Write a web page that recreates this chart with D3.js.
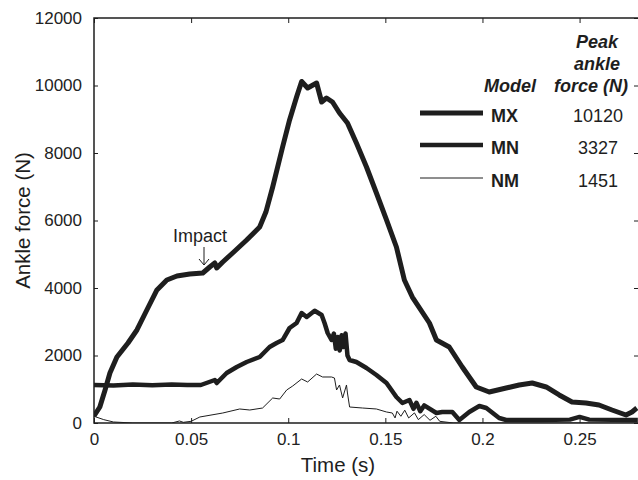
<!DOCTYPE html>
<html lang="en">
<head>
  <meta charset="UTF-8" />
  <title>Ankle force</title>
  <script src="https://cdn.jsdelivr.net/npm/d3@7"></script>
  <style>
    body { margin: 0; background: #fff; }
    svg { font-family: "Liberation Sans", Arial, sans-serif; }
    .tick text { font-size: 17px; fill: #222; }
    .domain { display: none; }
  </style>
</head>
<body>
  <div id="chart"></div>
  <script>
    // values (time in s, force in N)
    const mxTime = [0, 0.003, 0.0057, 0.0082, 0.0118, 0.0175, 0.0221, 0.0272, 0.0324, 0.0375, 0.0427, 0.0493, 0.056, 0.0596, 0.0622, 0.0632, 0.0663, 0.0714, 0.0786, 0.0853, 0.0885, 0.092, 0.0971, 0.1007, 0.1043, 0.1069, 0.11, 0.1146, 0.1172, 0.1197, 0.1228, 0.1264, 0.1305, 0.1351, 0.1403, 0.1454, 0.1506, 0.1557, 0.1598, 0.1639, 0.1727, 0.1763, 0.1829, 0.1896, 0.1968, 0.2035, 0.2122, 0.2189, 0.2256, 0.2328, 0.2395, 0.2461, 0.2533, 0.26, 0.2667, 0.2739, 0.277, 0.2795];
    const mxForce = [207, 474, 978, 1481, 1956, 2370, 2756, 3348, 3941, 4237, 4356, 4415, 4444, 4622, 4741, 4593, 4770, 5037, 5422, 5807, 6250, 6993, 8178, 8978, 9659, 10120, 9926, 10074, 9511, 9630, 9511, 9185, 8889, 8296, 7585, 6815, 6015, 5215, 4237, 3733, 2963, 2459, 2252, 1659, 1067, 919, 1037, 1126, 1185, 1067, 830, 622, 593, 533, 385, 237, 326, 444];

    const mnTime = [0, 0.01, 0.02, 0.03, 0.04, 0.048, 0.055, 0.0622, 0.0632, 0.0683, 0.0735, 0.0786, 0.0853, 0.0904, 0.094, 0.0971, 0.1007, 0.1043, 0.1069, 0.1095, 0.1136, 0.1172, 0.1187, 0.1203, 0.1223, 0.1235, 0.1245, 0.1255, 0.1265, 0.1275, 0.1285, 0.1295, 0.1305, 0.1316, 0.1351, 0.1403, 0.1454, 0.1506, 0.1557, 0.1588, 0.1624, 0.1645, 0.166, 0.168, 0.17, 0.1763, 0.1793, 0.1845, 0.1881, 0.1932, 0.1984, 0.202, 0.2086, 0.2122, 0.23, 0.245, 0.25, 0.255, 0.28];
    const mnForce = [1126, 1110, 1140, 1120, 1140, 1126, 1126, 1274, 1185, 1481, 1659, 1807, 1956, 2252, 2370, 2459, 2815, 2963, 3259, 3141, 3327, 3200, 2963, 2667, 2459, 2650, 2200, 2550, 2150, 2600, 2250, 2650, 2000, 1867, 1807, 1630, 1422, 1185, 770, 593, 681, 420, 600, 350, 520, 296, 326, 326, 89, 326, 504, 444, 148, 89, 90, 100, 180, 100, 90];

    const nmTime = [0, 0.005, 0.01, 0.02, 0.04, 0.044, 0.046, 0.05, 0.0545, 0.0663, 0.075, 0.0802, 0.0868, 0.092, 0.0956, 0.0992, 0.1023, 0.1069, 0.11, 0.1146, 0.1177, 0.1223, 0.1238, 0.1249, 0.1264, 0.128, 0.13, 0.1305, 0.1316, 0.1382, 0.1454, 0.1506, 0.1536, 0.155, 0.156, 0.158, 0.16, 0.162, 0.165, 0.167, 0.17, 0.173, 0.176, 0.178, 0.185, 0.28];
    const nmForce = [200, 100, 30, 0, 0, 60, 20, 50, 178, 296, 415, 385, 444, 741, 711, 978, 1096, 1304, 1215, 1451, 1363, 1363, 1333, 978, 1126, 741, 1126, 889, 474, 444, 415, 326, 296, 150, 350, 200, 380, 150, 300, 100, 250, 80, 200, 50, 0, 0];

    const models = ["MX", "MN", "NM"];
    const peaks = [10120, 3327, 1451];
    const widths = [5, 4.5, 1];
    const yTicks = [0, 2000, 4000, 6000, 8000, 10000, 12000];
    const xTicks = [0, 0.05, 0.1, 0.15, 0.2, 0.25];

    const width = 638, height = 480;
    const padL = 94, padT = 18, padR = 639, padB = 423;
    const ink = "#1e1e1e";

    const svg = d3.select("#chart").append("svg")
      .attr("width", width)
      .attr("height", height);

    const x = d3.scaleLinear().domain([0, 0.2806]).range([padL, padR]);
    const y = d3.scaleLinear().domain([0, 12000]).range([padB, padT]);

    svg.append("defs").append("clipPath").attr("id", "clip")
      .append("rect").attr("x", padL).attr("y", padT - 5)
      .attr("width", padR - padL).attr("height", padB - padT + 5);

    // axes with inward ticks
    svg.append("g")
      .attr("transform", `translate(0,${padB})`)
      .call(d3.axisBottom(x).tickValues(xTicks).tickFormat(d3.format("")).tickSizeInner(-5).tickPadding(10))
      .call(g => g.selectAll("line").attr("stroke", ink));

    svg.append("g")
      .attr("transform", `translate(0,${padT})`)
      .call(d3.axisTop(x).tickValues(xTicks).tickFormat("").tickSizeInner(-5))
      .call(g => g.selectAll("line").attr("stroke", ink));

    svg.append("g")
      .attr("transform", `translate(${padL},0)`)
      .call(d3.axisLeft(y).tickValues(yTicks).tickFormat(d3.format("d")).tickSizeInner(-4).tickPadding(12))
      .call(g => g.selectAll("line").attr("stroke", ink));

    svg.append("g")
      .attr("transform", `translate(${padR},0)`)
      .call(d3.axisRight(y).tickValues(yTicks).tickFormat("").tickSizeInner(-5))
      .call(g => g.selectAll("line").attr("stroke", ink));

    // frame
    svg.append("path")
      .attr("d", `M${padR},${padT}H${padL}V${padB}H${padR}`)
      .attr("fill", "none").attr("stroke", ink).attr("stroke-width", 1.5);

    // curves
    const line = d3.line().x(d => x(d[0])).y(d => y(d[1]));
    const series = [
      d3.zip(mxTime, mxForce),
      d3.zip(mnTime, mnForce),
      d3.zip(nmTime, nmForce)
    ];
    svg.append("g").attr("clip-path", "url(#clip)")
      .selectAll("path").data(series).join("path")
      .attr("d", line)
      .attr("fill", "none")
      .attr("stroke", ink)
      .attr("stroke-width", (d, i) => widths[i])
      .attr("stroke-linejoin", "round");

    // axis titles
    svg.append("text")
      .attr("transform", `translate(30,${(padT + padB) / 2}) rotate(-90)`)
      .attr("text-anchor", "middle")
      .attr("font-size", 20.5).attr("fill", ink)
      .text("Ankle force (N)");

    svg.append("text")
      .attr("x", 338).attr("y", 472)
      .attr("text-anchor", "middle")
      .attr("font-size", 20.5).attr("fill", ink)
      .text("Time (s)");

    // impact annotation
    svg.append("text")
      .attr("x", 200).attr("y", 242)
      .attr("text-anchor", "middle")
      .attr("font-size", 18).attr("fill", ink)
      .text("Impact");
    svg.append("path")
      .attr("d", "M204,247V265M199,259L204,265L209,259")
      .attr("fill", "none").attr("stroke", ink).attr("stroke-width", 1);

    // legend table
    const legend = svg.append("g").attr("font-size", 18).attr("fill", ink);
    legend.append("text").attr("x", 536).attr("y", 92)
      .attr("text-anchor", "end").attr("font-weight", "bold").attr("font-style", "italic")
      .text("Model");
    const headX = [597, 597, 591];
    ["Peak", "ankle", "force (N)"].forEach((t, i) => {
      legend.append("text").attr("x", headX[i]).attr("y", 48 + i * 22)
        .attr("text-anchor", "middle").attr("font-weight", "bold").attr("font-style", "italic")
        .text(t);
    });
    const rowY = [113, 145, 178];
    models.forEach((m, i) => {
      legend.append("line")
        .attr("x1", 420).attr("x2", 483)
        .attr("y1", rowY[i]).attr("y2", rowY[i])
        .attr("stroke", ink).attr("stroke-width", widths[i]);
      legend.append("text").attr("x", 491).attr("y", rowY[i] + 9)
        .attr("font-weight", "bold").text(m);
      legend.append("text").attr("x", 598).attr("y", rowY[i] + 9)
        .attr("text-anchor", "middle").text(peaks[i]);
    });
  </script>
</body>
</html>
